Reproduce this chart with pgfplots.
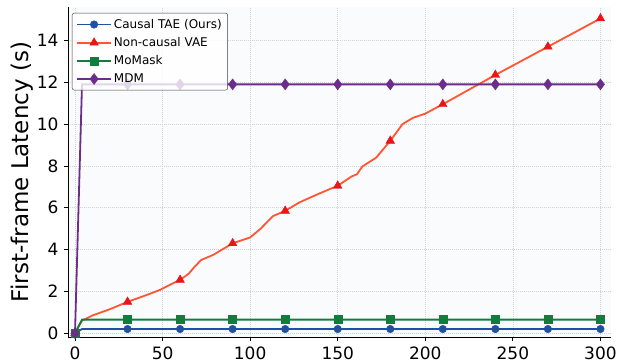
\documentclass[border=0pt]{standalone}
\usepackage{pgfplots}
\pgfplotsset{compat=1.18}
\usepackage{fontspec}
\setmainfont{DejaVu Sans}
\definecolor{cblue}{RGB}{30,80,165}
\definecolor{cgreen}{RGB}{15,125,60}
\definecolor{credl}{RGB}{255,85,50}
\definecolor{credm}{RGB}{232,22,22}
\definecolor{cpurp}{RGB}{108,45,138}
\definecolor{bg}{RGB}{250,251,253}
\begin{document}
\begin{tikzpicture}
\begin{axis}[
  scale only axis, width=543pt, height=330pt,
  xmin=-4, xmax=306, ymin=-0.18, ymax=15.6,
  axis x line*=bottom, axis y line*=left,
  axis line style={black, line width=0.9pt, -},
  axis background/.style={fill=bg},
  xtick={0,50,100,150,200,250,300},
  ytick={0,2,4,6,8,10,12,14},
  tick align=outside, major tick length=4pt,
  tick style={black, line width=0.8pt},
  grid=major,
  major grid style={color=gray!35, dash pattern=on 1pt off 1pt, line width=0.6pt},
  /pgf/number format/assume math mode=true,
  ticklabel style={font=\fontsize{17}{20}\selectfont},
  xticklabel style={yshift=-2pt},
  yticklabel style={xshift=-2pt},
  ylabel={First-frame Latency (s)},
  ylabel style={font=\fontsize{23}{26}\selectfont, yshift=-3pt},
  legend style={at={(axis description cs:0,1)}, anchor=north west, xshift=4pt, yshift=-6pt,
    font=\fontsize{12}{14}\selectfont, draw=black!75, fill=white, fill opacity=0.8, text opacity=1,
    rounded corners=2pt, row sep=3.6pt, inner xsep=4pt, inner ysep=4pt},
  legend cell align=left,
  legend image code/.code={%
    \draw[#1, line width=1.8pt, draw opacity=1, fill opacity=1, mark=none] (0pt,0pt) -- (34pt,0pt);
    \draw[#1, draw opacity=1, fill opacity=1, only marks] plot coordinates {(17pt,0pt)};},
]
\addlegendimage{cblue, mark=*, mark size=3.8pt, mark options={fill=cblue, draw=cblue, solid}}
\addlegendentry{Causal TAE (Ours)}
\addlegendimage{credl, mark=triangle*, mark size=5pt, mark options={fill=credm, draw=credm, solid}}
\addlegendentry{Non-causal VAE}
\addlegendimage{cgreen, mark=square*, mark size=4pt, mark options={fill=cgreen, draw=cgreen, solid}}
\addlegendentry{MoMask}
\addlegendimage{cpurp, mark=diamond*, mark size=5.5pt, mark options={fill=cpurp, draw=cpurp, solid}}
\addlegendentry{MDM}

% Causal TAE
\addplot[cblue, line width=1.8pt, forget plot] coordinates {(0,0) (4,0.2) (300,0.2)};
\addplot[only marks, mark=*, mark size=3.8pt, color=cblue, forget plot] coordinates {
(0,0) (30,0.2) (60,0.2) (90,0.2) (120,0.2) (150,0.2) (180,0.2) (210,0.2) (240,0.2) (270,0.2) (300,0.2)};
% Non-causal VAE
\addplot[credl, line width=1.8pt, forget plot] coordinates {
(0,0) (4,0.6) (10,0.85) (20,1.15) (30,1.5) (40,1.8) (48.5,2.07) (55,2.35) (60,2.55) (65,2.85)
(68,3.15) (72,3.5) (79,3.75) (84,4.0) (90,4.3) (100,4.58) (106,5.0) (113,5.6) (120,5.85)
(128,6.25) (140,6.7) (150,7.05) (158,7.5) (161,7.6) (164,7.97) (172,8.4) (180,9.2) (187,10.0)
(193,10.3) (200,10.5) (210,10.95) (240,12.35) (270,13.7) (300,15.05)};
\addplot[only marks, mark=triangle*, mark size=5pt, color=credm, forget plot] coordinates {
(0,0) (30,1.5) (60,2.55) (90,4.3) (120,5.85) (150,7.05) (180,9.2) (210,10.95) (240,12.35) (270,13.7) (300,15.05)};
% MoMask
\addplot[cgreen, line width=1.8pt, forget plot] coordinates {(0,0) (4,0.65) (300,0.65)};
\addplot[only marks, mark=square*, mark size=4pt, color=cgreen, forget plot] coordinates {
(0,0) (30,0.65) (60,0.65) (90,0.65) (120,0.65) (150,0.65) (180,0.65) (210,0.65) (240,0.65) (270,0.65) (300,0.65)};
% MDM
\addplot[cpurp, line width=1.8pt, forget plot] coordinates {(0,0) (4,11.9) (300,11.9)};
\addplot[only marks, mark=diamond*, mark size=5.5pt, color=cpurp, forget plot] coordinates {
(0,0) (30,11.9) (60,11.9) (90,11.9) (120,11.9) (150,11.9) (180,11.9) (210,11.9) (240,11.9) (270,11.9) (300,11.9)};
\end{axis}
\path (current axis.south west) ++(-68pt,-23pt) rectangle ++(620pt,360pt);
\end{tikzpicture}
\end{document}
